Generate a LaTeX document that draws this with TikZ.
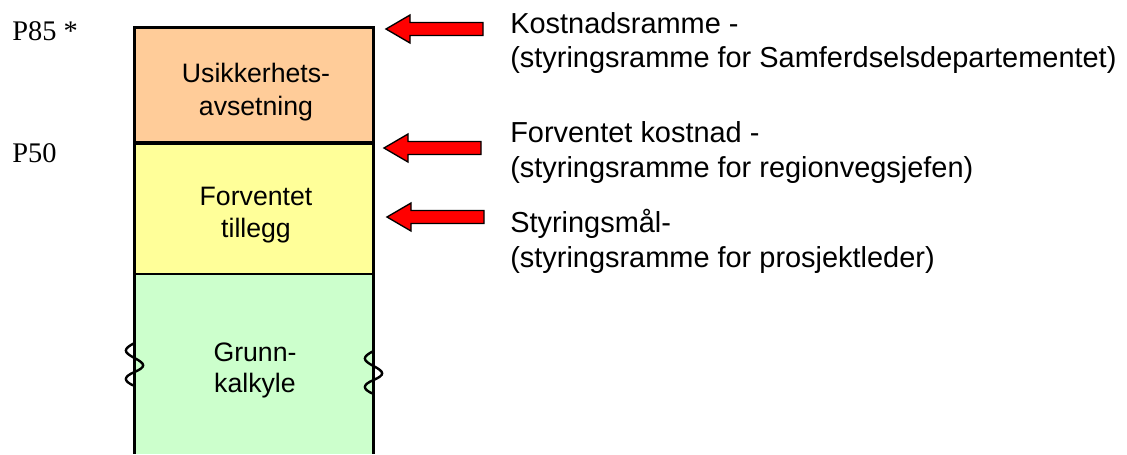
\documentclass[tikz,border=0pt]{standalone}
\usepackage{fontspec}
\setmainfont{Liberation Serif}
\newfontfamily\arialfont{Liberation Sans}
\definecolor{uorange}{HTML}{FFCC99}
\definecolor{uyellow}{HTML}{FFFF99}
\definecolor{ugreen}{HTML}{CCFFCC}
\definecolor{ured}{HTML}{FF0000}
\tikzset{
  layer/.style={draw=black, line width=2.2pt, anchor=north west, inner sep=0pt,
    outer sep=0pt, minimum width=239*0.75pt},
  boxtext/.style={anchor=base, inner sep=0pt, font=\arialfont\fontsize{20}{24}\selectfont},
  sidelabel/.style={anchor=base west, inner sep=0pt,
    font=\arialfont\fontsize{21.7}{26}\selectfont},
  plabel/.style={anchor=base west, inner sep=0pt, font=\fontsize{21.3}{25}\selectfont},
  arrowstyle/.style={fill=ured, draw=black, line width=1pt, line join=miter},
  redarrow/.pic={
    \draw[arrowstyle] (0,0) -- (24,-14) -- (24,-6.5) -- (97,-6.5) -- (97,6.5)
      -- (24,6.5) -- (24,14) -- cycle;},
  wave/.style={draw=black, line width=1.8pt}
}
\begin{document}
\begin{tikzpicture}[x=0.75pt, y=-0.75pt]
\useasboundingbox (0,0) rectangle (1127,454);

% base estimate, open at the bottom
\node[layer, draw=none, fill=ugreen, minimum height=181*0.75pt] (grunn) at (134.5,273) {};
\draw[line width=2.2pt] (grunn.north west) -- (grunn.south west);
\draw[line width=2.2pt] (grunn.north east) -- (grunn.south east);

% expected addition and contingency
\node[layer, fill=uyellow, minimum height=131*0.75pt] (tillegg) at (134.5,143) {};
\node[layer, fill=uorange, minimum height=115*0.75pt] (usikker) at (134.5,27.5) {};
\draw[line width=3.2pt] (tillegg.north west) -- (tillegg.north east);

% layer captions
\node[boxtext] (u1) at (256,82) {Usikkerhets-};
\node[boxtext] (u2) at (256,115) {avsetning};
\node[boxtext] (t1) at (256,205) {Forventet};
\node[boxtext] (t2) at (256,237) {tillegg};
\node[boxtext] (g1) at (255,361) {Grunn-};
\node[boxtext] (g2) at (255,392) {kalkyle};

% broken-scale marks on the sides
\draw[wave] (134.5,343) .. controls (123,349) and (123,352) .. (134.5,358)
  .. controls (146,364) and (146,367) .. (134.5,372)
  .. controls (123,377) and (123,381) .. (134.5,386);
\draw[wave] (373.5,351) .. controls (362,357) and (362,360) .. (373.5,366)
  .. controls (385,372) and (385,375) .. (373.5,380)
  .. controls (362,385) and (362,389) .. (373.5,394);

% percentile labels
\node[plabel] (p85) at (12,40) {P85 *};
\node[plabel] (p50) at (12,162) {P50};

% pointers to the levels
\coordinate (a1) at (386,29);
\coordinate (a2) at (384,148);
\coordinate (a3) at (387,217);
\pic at (a1) {redarrow};
\pic at (a2) {redarrow};
\pic at (a3) {redarrow};

% level descriptions
\node[sidelabel] (l1a) at (510,33) {Kostnadsramme -};
\node[sidelabel] (l1b) at (510,67) {(styringsramme for Samferdselsdepartementet)};
\node[sidelabel] (l2a) at (510,142) {Forventet kostnad -};
\node[sidelabel] (l2b) at (510,177) {(styringsramme for regionvegsjefen)};
\node[sidelabel] (l3a) at (510,232) {Styringsmål-};
\node[sidelabel] (l3b) at (510,267) {(styringsramme for prosjektleder)};
\end{tikzpicture}
\end{document}
